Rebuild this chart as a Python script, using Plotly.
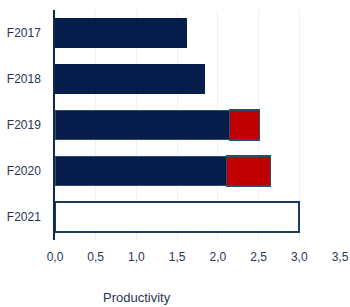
import plotly.graph_objects as go

categories = ["F2017", "F2018", "F2019", "F2020", "F2021"]
base_values = [1.61, 1.83, 2.14, 2.11, None]
extra_values = [None, None, 0.37, 0.54, None]
target_values = [None, None, None, None, 3.0]
x_ticks = [0, 0.5, 1.0, 1.5, 2.0, 2.5, 3.0, 3.5]
x_tick_labels = ["0,0", "0,5", "1,0", "1,5", "2,0", "2,5", "3,0", "3,5"]

navy = "#061d4b"
red = "#c00000"
outline = "#2c4d6b"
text_color = "#2b3553"

fig = go.Figure()
fig.add_trace(go.Bar(
    y=categories, x=base_values, orientation="h",
    marker=dict(color=navy,
                line=dict(color=[navy, navy, outline, outline, navy], width=1)),
    showlegend=False,
))
fig.add_trace(go.Bar(
    y=categories, x=extra_values, orientation="h",
    marker=dict(color=red, line=dict(color=outline, width=1.2)),
    showlegend=False,
))
fig.add_trace(go.Bar(
    y=categories, x=target_values, orientation="h",
    marker=dict(color="white", line=dict(color="#1a3d5c", width=2)),
    showlegend=False,
))

W, H = 350, 307
L, R, T, B = 55, 10, 10, 67
pw, ph = W - L - R, H - T - B

fig.update_layout(
    width=W, height=H,
    margin=dict(l=L, r=R, t=T, b=B, autoexpand=False),
    barmode="stack",
    bargap=0.35,
    plot_bgcolor="white",
    paper_bgcolor="white",
    font=dict(family="Liberation Sans, Arial, sans-serif", size=12, color=text_color),
    xaxis=dict(
        range=[0, 3.5],
        tickvals=x_ticks, ticktext=x_tick_labels,
        showgrid=True, gridcolor="#f0f0f0", gridwidth=1,
        zeroline=False, showline=False, automargin=False,
        ticks="", ticklabelstandoff=8, ticklabeloverflow="allow",
    ),
    yaxis=dict(
        categoryorder="array", categoryarray=categories[::-1],
        showgrid=False, zeroline=False, automargin=False,
        showline=True, linecolor="#0d2c4c", linewidth=1.5,
        ticks="", ticklabelstandoff=10,
    ),
    annotations=[dict(
        text="Productivity", xref="paper", yref="paper",
        x=(137 - L) / pw, y=-(297 - (T + ph)) / ph,
        xanchor="center", yanchor="middle",
        showarrow=False, font=dict(size=13, color=text_color),
    )],
)

# remove the default 8px page margin so the figure sits at the window corner
fig.write_html(
    "out.html",
    config={"displayModeBar": False},
    post_script="document.body.style.margin='0';document.body.style.overflow='hidden';",
)
